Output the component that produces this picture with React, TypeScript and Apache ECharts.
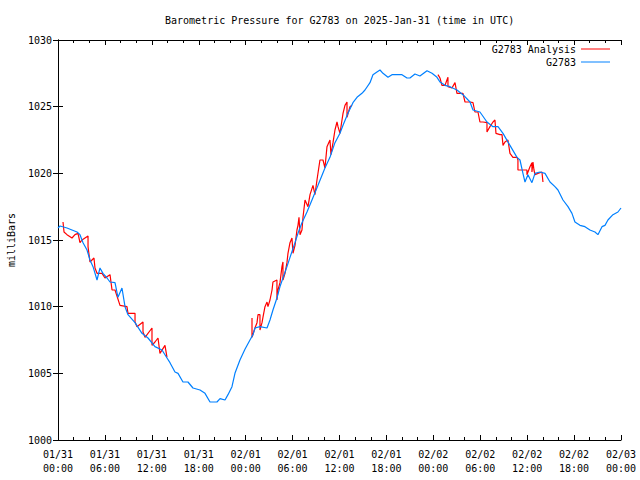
import React, { useEffect, useRef } from "react";
import * as echarts from "echarts";

// Hours since 2025-01-31 00:00 UTC
const obsHours = [
  0, 0.26, 1.15, 1.79, 2.43, 2.81, 3.2, 3.71, 4.09, 4.48, 4.99, 5.37, 5.75, 6.27, 6.65, 7.29, 7.67, 8.18, 8.57, 8.95,
  9.85, 10.74, 11.51, 12.4, 13.3, 13.94, 14.32, 14.96, 15.35, 15.98, 16.62, 17.26, 18.16, 18.8, 19.44, 20.33, 20.72,
  21.36, 21.74, 22.25, 22.63, 23.27, 23.91, 24.55, 24.94, 25.19, 25.83, 26.73, 27.11, 27.49, 28.0, 28.39, 28.77, 29.28,
  29.67, 30.31, 30.69, 31.2, 31.84, 32.48, 33.25, 34.14, 34.78, 35.42, 36.06, 36.45, 37.08, 37.72, 38.24, 38.87, 39.26,
  39.9, 40.28, 40.79, 41.18, 41.56, 42.2, 42.71, 43.09, 43.99, 44.63, 45.01, 45.65, 46.29, 47.19, 47.83, 48.47, 48.85,
  49.49, 50.13, 51.02, 51.79, 52.69, 53.07, 53.96, 54.86, 55.63, 56.27, 56.91, 57.8, 58.7, 59.08, 59.46, 59.72, 60.1,
  60.61, 61.0, 61.64, 62.28, 62.92, 63.55, 63.94, 64.58, 65.22, 65.73, 66.11, 66.75, 67.39, 68.03, 68.67, 69.05, 69.57,
  69.95, 70.33, 70.97, 71.61, 72.0,
];
const obsPressure = [
  1015.9, 1016.05, 1015.9, 1015.75, 1015.6, 1015.4, 1014.8, 1014.25, 1013.5, 1013.0, 1012.0, 1012.9, 1012.5, 1012.15,
  1011.85, 1011.8, 1010.7, 1011.4, 1010.0, 1009.4, 1008.8, 1008.0, 1007.65, 1007.0, 1006.75, 1006.15, 1005.8, 1005.1,
  1005.0, 1004.35, 1004.35, 1003.9, 1003.75, 1003.5, 1002.85, 1002.85, 1003.1, 1003.0, 1003.4, 1004.0, 1005.0, 1006.0,
  1006.8, 1007.5, 1007.9, 1008.4, 1008.5, 1008.4, 1009.0, 1009.75, 1010.65, 1011.5, 1012.15, 1013.0, 1013.7, 1014.8,
  1015.5, 1016.3, 1017.1, 1018.0, 1019.1, 1020.4, 1021.2, 1022.3, 1023.0, 1023.6, 1024.5, 1025.3, 1025.7, 1026.0,
  1026.25, 1026.8, 1027.4, 1027.6, 1027.75, 1027.5, 1027.2, 1027.4, 1027.4, 1027.4, 1027.15, 1027.15, 1027.45, 1027.3,
  1027.7, 1027.5, 1027.2, 1026.85, 1026.6, 1026.5, 1026.25, 1025.9, 1025.35, 1024.75, 1024.6, 1023.85, 1023.5, 1023.5,
  1023.0, 1022.1, 1021.2, 1021.0, 1020.0, 1019.35, 1019.9, 1019.3, 1020.0, 1020.1, 1020.0, 1019.35, 1019.0, 1018.75,
  1018.0, 1017.5, 1017.0, 1016.35, 1016.1, 1016.0, 1015.75, 1015.6, 1015.4, 1016.0, 1016.1, 1016.5, 1016.9, 1017.1,
  1017.4,
];

const ana1Hours = [
  0.64, 0.77, 1.15, 1.79, 2.17, 2.56, 2.81, 3.07, 3.84, 3.84, 4.09, 4.6, 4.73, 4.99, 5.63, 6.01, 6.65, 6.91, 7.29, 7.93,
  8.82, 8.95, 9.85, 9.85, 10.1, 10.87, 10.87, 11.13, 12.02, 12.02, 12.4, 12.79, 13.04, 13.68, 13.94,
];
const ana1Pressure = [
  1016.35, 1015.6, 1015.4, 1015.15, 1015.4, 1015.5, 1014.8, 1015.0, 1015.3, 1014.5, 1013.35, 1013.65, 1012.9, 1012.5,
  1012.5, 1012.15, 1012.4, 1011.25, 1011.25, 1010.1, 1010.0, 1009.5, 1009.5, 1008.85, 1008.5, 1008.85, 1008.1, 1007.7,
  1008.4, 1007.1, 1007.35, 1007.65, 1006.5, 1007.1, 1006.2,
];

const ana2Hours = [
  24.81, 24.81, 25.19, 25.45, 25.58, 25.83, 25.83, 26.09, 26.21, 26.47, 26.73, 26.85, 27.11, 27.37, 27.49, 28.0, 28.0,
  28.13, 28.39, 28.64, 28.77, 28.77, 29.03, 29.28, 29.41, 29.67, 29.92, 30.05, 30.31, 30.56, 30.69, 30.82, 30.95, 31.2,
  31.33, 31.59, 31.97, 32.23, 32.61, 32.86, 33.12, 33.5, 33.89, 34.14, 34.4, 34.78, 34.91, 35.17, 35.42, 35.68, 35.81,
  36.06, 36.32, 36.45, 36.7, 36.96, 36.96, 37.34, 37.6,
];
const ana2Pressure = [
  1009.15, 1007.7, 1008.4, 1008.8, 1009.4, 1009.4, 1008.25, 1008.8, 1009.2, 1010.0, 1010.35, 1010.0, 1010.5, 1011.25,
  1011.85, 1012.0, 1010.5, 1011.25, 1011.8, 1013.0, 1013.35, 1012.0, 1012.5, 1013.3, 1014.0, 1014.8, 1015.15, 1014.0,
  1014.6, 1015.75, 1016.1, 1016.7, 1015.4, 1015.75, 1016.7, 1018.0, 1017.5, 1018.4, 1019.1, 1018.4, 1019.5, 1021.0,
  1021.0, 1020.4, 1022.0, 1022.5, 1021.4, 1022.3, 1023.25, 1023.85, 1023.5, 1023.0, 1024.0, 1024.5, 1025.1, 1025.35,
  1024.2, 1025.0, 1025.1,
];

const ana3Hours = [
  48.59, 48.85, 49.1, 49.49, 49.74, 49.87, 49.87, 50.38, 50.77, 51.02, 51.79, 52.05, 52.69, 53.07, 53.32, 53.71, 53.96,
  54.35, 54.86, 54.86, 55.24, 55.63, 55.88, 56.01, 56.52, 56.78, 56.91, 57.16, 57.54, 57.8, 58.18, 58.7, 58.82, 58.82,
  59.46, 59.97, 59.97, 60.36, 60.61, 60.61, 60.74, 60.87, 61.0, 61.38, 61.89, 62.02,
];
const ana3Pressure = [
  1027.4, 1027.15, 1026.6, 1026.6, 1027.0, 1027.2, 1026.5, 1026.4, 1026.8, 1026.0, 1026.0, 1025.35, 1025.35, 1025.3,
  1024.6, 1024.6, 1023.85, 1023.85, 1023.8, 1023.1, 1023.5, 1023.85, 1024.0, 1023.0, 1022.9, 1022.9, 1022.1, 1022.35,
  1022.5, 1021.5, 1021.2, 1021.2, 1021.0, 1020.25, 1020.25, 1020.25, 1019.9, 1020.5, 1020.8, 1020.1, 1020.85, 1020.25,
  1019.9, 1020.0, 1020.1, 1019.35,
];

const dayLabels = ["01/31", "02/01", "02/02", "02/03"];
const titleText = "Barometric Pressure for G2783 on 2025-Jan-31 (time in UTC)";
const analysisName = "G2783 Analysis";
const obsName = "G2783";

const FONT = "DejaVu Sans Mono";
const RED = "#ff0000";
const BLUE = "#0080ff";

function pairs(xs: number[], ys: number[]) {
  return xs.map((x, i) => [x, ys[i]]);
}

function fmtX(v: number) {
  const day = Math.floor(v / 24 + 1e-9);
  const hr = Math.round(v - day * 24);
  return `${dayLabels[day]}\n${String(hr).padStart(2, "0")}:00`;
}

export default function App() {
  const ref = useRef<HTMLDivElement>(null);
  useEffect(() => {
    if (!ref.current) return;
    const chart = echarts.init(ref.current, undefined, { renderer: "svg" });
    const axisLine = { show: true, lineStyle: { color: "#000", width: 1 } };
    const xCommon = {
      type: "value",
      min: 0,
      max: 72,
      interval: 6,
      axisLine,
      axisTick: { show: true, inside: true, length: 5, lineStyle: { color: "#000" } },
      minorTick: { show: true, splitNumber: 3, length: 3, lineStyle: { color: "#000" } },
      splitLine: { show: false },
      minorSplitLine: { show: false },
    };
    const yCommon = {
      type: "value",
      min: 1000,
      max: 1030,
      interval: 5,
      axisLine,
      axisTick: { show: true, inside: true, length: 5, lineStyle: { color: "#000" } },
      splitLine: { show: false },
    };
    const redSeries = [
      pairs(ana1Hours, ana1Pressure),
      pairs(ana2Hours, ana2Pressure),
      pairs(ana3Hours, ana3Pressure),
    ].map((d) => ({
      name: analysisName,
      type: "line",
      data: d,
      symbol: "none",
      lineStyle: { color: RED, width: 1.2 },
      itemStyle: { color: RED },
    }));
    chart.setOption({
      animation: false,
      backgroundColor: "#fff",
      textStyle: { fontFamily: FONT },
      title: {
        text: titleText,
        left: 165,
        top: 15,
        padding: 0,
        textStyle: { fontFamily: FONT, fontSize: 10, fontWeight: "normal", color: "#000" },
      },
      legend: {
        orient: "vertical",
        right: 30,
        top: 43,
        padding: 0,
        align: "right",
        icon: "rect",
        itemWidth: 29,
        itemHeight: 1,
        itemGap: 1,
        data: [analysisName, obsName],
        textStyle: { fontFamily: FONT, fontSize: 10, color: "#000", lineHeight: 12 },
      },
      grid: { left: 58, top: 40, right: 19, bottom: 40, containLabel: false, outerBoundsMode: "none" },
      xAxis: [
        {
          ...xCommon,
          position: "bottom",
          axisLabel: {
            show: true,
            formatter: fmtX,
            fontFamily: FONT,
            fontSize: 10,
            color: "#000",
            margin: 7,
            lineHeight: 14,
          },
        },
        { ...xCommon, position: "top", axisLabel: { show: false } },
      ],
      yAxis: [
        {
          ...yCommon,
          position: "left",
          name: "milliBars",
          nameLocation: "middle",
          nameGap: 42,
          nameRotate: 90,
          nameTextStyle: { fontFamily: FONT, fontSize: 10, color: "#000" },
          axisLabel: {
            show: true,
            formatter: (v: number) => String(v),
            fontFamily: FONT,
            fontSize: 10,
            color: "#000",
            margin: 6,
          },
        },
        { ...yCommon, position: "right", axisLabel: { show: false } },
      ],
      series: [
        ...redSeries,
        {
          name: obsName,
          type: "line",
          data: pairs(obsHours, obsPressure),
          symbol: "none",
          lineStyle: { color: BLUE, width: 1.2 },
          itemStyle: { color: BLUE },
        },
      ],
    });
    return () => chart.dispose();
  }, []);
  return (
    <div
      ref={ref}
      style={{ position: "fixed", left: 0, top: 0, width: 640, height: 480, background: "#fff" }}
    />
  );
}
